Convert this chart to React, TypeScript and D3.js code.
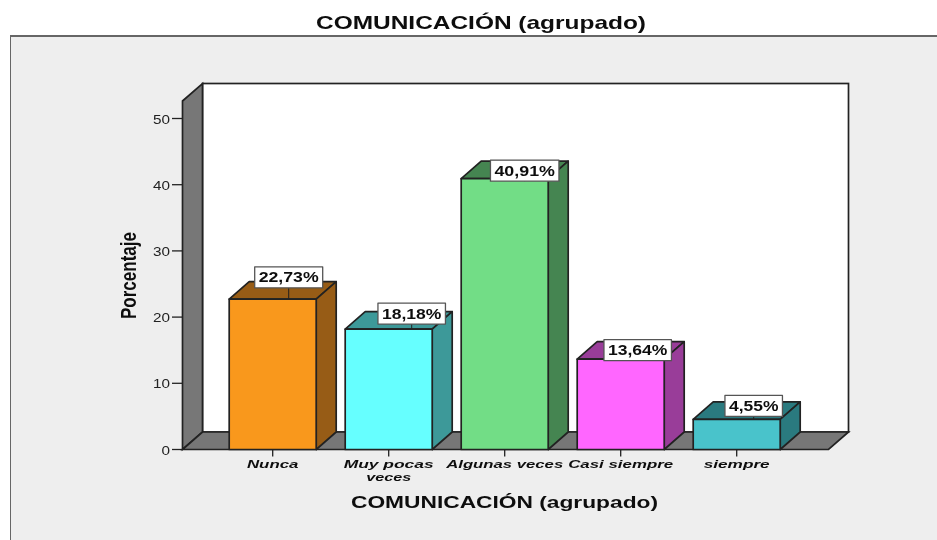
import React from "react";
import * as d3 from "d3";

const TITLE = "COMUNICACIÓN (agrupado)";
const Y_LABEL = "Porcentaje";
const categories = ["Nunca", "Muy pocas veces", "Algunas veces", "Casi siempre", "siempre"];
const categoryLines = [["Nunca"], ["Muy pocas", "veces"], ["Algunas veces"], ["Casi siempre"], ["siempre"]];
const values = [22.73, 18.18, 40.91, 13.64, 4.55];
const valueLabels = ["22,73%", "18,18%", "40,91%", "13,64%", "4,55%"];
const frontColors = ["#F9981E", "#66FFFF", "#72DD86", "#FF66FF", "#48C3CB"];
const sideColors = ["#975C12", "#3D9999", "#458551", "#993D99", "#2B7A7F"];
const yTicks = [0, 10, 20, 30, 40, 50];

// layout
const DX = 20, DY = 17.5;
const Y0 = 449.5, Y50 = 118.5;
const frontLeft = 182.5, frontRight = 828.5, frontTop = 101;
const labelDx = [16, 23, 20, 17, 17];
const labelDy = [-21.7, -15.6, -8, -9, -13.5];
const labelW = [68, 67.5, 68.5, 67.5, 57.5];
const labelH = 21;
const catTextW: Record<string, number> = { "Nunca": 51.5, "Muy pocas": 90, "veces": 45, "Algunas veces": 117, "Casi siempre": 105, "siempre": 66 };
const STROKE = "#222";
const FONT = "'Liberation Sans', Arial, sans-serif";

export default function App() {
  const y = d3.scaleLinear().domain([0, 50]).range([Y0, Y50]);
  const x = d3.scaleBand<string>().domain(categories).range([214.7, 794.7]).paddingInner(0.25).paddingOuter(0.125);
  const poly = (pts: number[][]) => pts.map((p) => p.join(",")).join(" ");
  return (
    <svg width={937} height={540} style={{ position: "absolute", left: 0, top: 0 }} fontFamily={FONT}>
      <defs>
        <filter id="soft" x="0" y="0" width="100%" height="100%">
          <feGaussianBlur stdDeviation="0.45" />
        </filter>
      </defs>
      <rect width={937} height={540} fill="#fff" />
      <g filter="url(#soft)">
        <path d="M10,541V36H938V541Z" fill="#EEEEEE" stroke="#666" strokeWidth={2} />
        <text x={481} y={28.5} textAnchor="middle" fontSize={19} fontWeight="bold" fill="#111" textLength={330} lengthAdjust="spacingAndGlyphs">{TITLE}</text>

        {/* back wall, side wall, floor */}
        <rect x={frontLeft + DX} y={frontTop - DY} width={frontRight - frontLeft} height={Y0 - frontTop} fill="#fff" stroke={STROKE} strokeWidth={1.7} />
        <polygon points={poly([[frontLeft, frontTop], [frontLeft + DX, frontTop - DY], [frontLeft + DX, Y0 - DY], [frontLeft, Y0]])} fill="#777" stroke={STROKE} strokeWidth={1.7} />
        <polygon points={poly([[frontLeft, Y0], [frontLeft + DX, Y0 - DY], [frontRight + DX, Y0 - DY], [frontRight, Y0]])} fill="#777" stroke={STROKE} strokeWidth={1.7} />

        {/* y axis */}
        {yTicks.map((t) => (
          <g key={t}>
            <line x1={frontLeft - 10.5} x2={frontLeft} y1={y(t)} y2={y(t)} stroke={STROKE} strokeWidth={1.3} />
            <text x={170} y={y(t) + 5} textAnchor="end" fontSize={13} fill="#222" textLength={t === 0 ? 8.5 : 17} lengthAdjust="spacingAndGlyphs">{t}</text>
          </g>
        ))}
        <text transform="translate(136,275.5) rotate(-90)" textAnchor="middle" fontSize={22} fontWeight="bold" fill="#111" textLength={87} lengthAdjust="spacingAndGlyphs">{Y_LABEL}</text>

        {/* x ticks and labels */}
        {categories.map((c, i) => {
          const cx = x(c)! + x.bandwidth() / 2;
          return (
            <g key={c}>
              <line x1={cx} x2={cx} y1={Y0} y2={456.5} stroke={STROKE} strokeWidth={1.3} />
              {categoryLines[i].map((l, j) => (
                <text key={l} x={cx} y={468 + j * 12.5} textAnchor="middle" fontSize={11.5} fontStyle="italic" fontWeight="bold" fill="#111" textLength={catTextW[l]} lengthAdjust="spacingAndGlyphs">{l}</text>
              ))}
            </g>
          );
        })}
        <text x={504.5} y={508} textAnchor="middle" fontSize={16} fontWeight="bold" fill="#111" textLength={307} lengthAdjust="spacingAndGlyphs">{TITLE}</text>

        {/* bars */}
        {categories.map((c, i) => {
          const x0 = x(c)!;
          const x1 = x0 + x.bandwidth();
          const top = y(values[i]);
          const cx = (x0 + x1) / 2;
          const lx = cx + labelDx[i];
          const ly = top + labelDy[i];
          return (
            <g key={c} stroke={STROKE} strokeWidth={1.7} strokeLinejoin="round">
              <polygon points={poly([[x0, top], [x0 + DX, top - DY], [x1 + DX, top - DY], [x1, top]])} fill={sideColors[i]} />
              <polygon points={poly([[x1, top], [x1 + DX, top - DY], [x1 + DX, Y0 - DY], [x1, Y0]])} fill={sideColors[i]} />
              <rect x={x0} y={top} width={x1 - x0} height={Y0 - top} fill={frontColors[i]} />
              <line x1={lx} x2={lx} y1={ly + labelH / 2} y2={top} strokeWidth={1} />
              <rect x={lx - labelW[i] / 2} y={ly - labelH / 2} width={labelW[i]} height={labelH} fill="#fff" stroke="#555" strokeWidth={1.3} />
              <text x={lx} y={ly + 5} textAnchor="middle" fontSize={14} fontWeight="bold" fill="#111" stroke="none" textLength={labelW[i] - 8} lengthAdjust="spacingAndGlyphs">{valueLabels[i]}</text>
            </g>
          );
        })}
      </g>
    </svg>
  );
}
